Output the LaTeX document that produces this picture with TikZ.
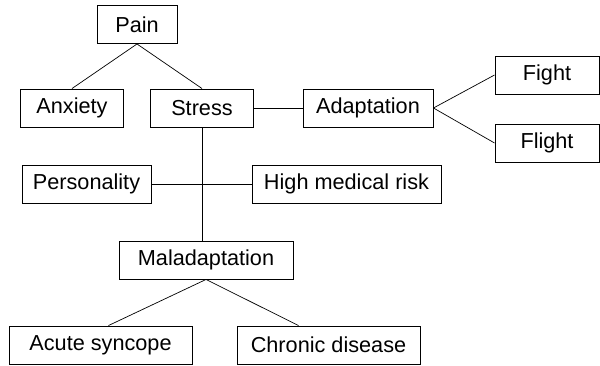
\documentclass[tikz,border=0pt]{standalone}
\usepackage{fontspec}
\setmainfont{Liberation Sans}
\usetikzlibrary{positioning, calc}

\begin{document}
\begin{tikzpicture}[
    x=0.03cm, y=-0.03cm,
    % box style
    termbox/.style={
        draw=black,
        line width=0.8pt,
        fill=white,
        align=center,
        font=\fontsize{18.5}{21}\selectfont,
        inner sep=2pt,
        minimum height=1.14cm
    },
    % connector style
    link/.style={
        line width=0.6pt
    }
]
    \useasboundingbox (0,0) rectangle (600,365);

    % --- 1. top level ---
    \node[termbox, minimum width=2.4cm] (pain) at (137,24.5) {Pain};
    \node[termbox, minimum width=3.09cm] (anxiety) at (72,108) {Anxiety};
    \node[termbox, minimum width=3.09cm] (stress) at (202,108) {Stress};
    \node[termbox, minimum width=3.9cm] (adapt) at (368,108) {Adaptation};
    \node[termbox, minimum width=3.12cm] (fight) at (547,75) {Fight};
    \node[termbox, minimum width=3.12cm] (flight) at (547,143) {Flight};

    % --- 2. middle level ---
    \node[termbox, minimum width=3.87cm] (person) at (86.5,184) {Personality};
    \node[termbox, minimum width=5.67cm] (risk) at (346.5,184) {High medical risk};
    \node[termbox, minimum width=5.22cm] (maladapt) at (206,260) {Maladaptation};

    % --- 3. bottom level ---
    \node[termbox, minimum width=5.49cm] (syncope) at (100.5,345) {Acute syncope};
    \node[termbox, minimum width=5.49cm] (chronic) at (328.5,345) {Chronic disease};

    % --- 4. connectors ---
    \draw[link] (pain.south) -- (anxiety.north);
    \draw[link] (pain.south) -- (stress.north);
    \draw[link] (stress.east) -- (adapt.west);
    \draw[link] (adapt.east) -- (fight.west);
    \draw[link] (adapt.east) -- (flight.west);
    \draw[link] (stress.south) -- (stress.south |- maladapt.north);
    \draw[link] (person.east) -- (risk.west);
    \draw[link] (maladapt.south) -- ($(syncope.north)+(8,0)$);
    \draw[link] (maladapt.south) -- ($(chronic.north)+(-30,0)$);

\end{tikzpicture}
\end{document}
